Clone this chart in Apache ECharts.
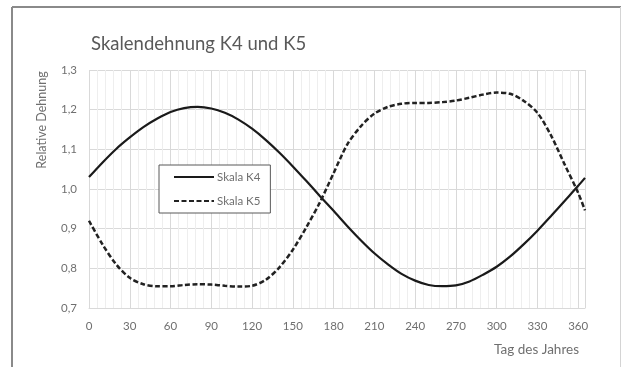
<!DOCTYPE html>
<html>
<head>
<meta charset="utf-8">
<script src="https://cdn.jsdelivr.net/npm/echarts@6/dist/echarts.min.js"></script>
<style>
  html, body { margin: 0; padding: 0; background: #fff; }
  #chart { width: 622px; height: 367px; }
</style>
</head>
<body>
<div id="chart"></div>
<script>
// Day of year and relative strain for scale K4
const daysK4 = [0, 10, 20, 30, 40, 50, 60, 70, 80, 90, 100, 110, 120, 130, 140, 150, 160, 170, 180, 190, 200, 210, 220, 230, 240, 250, 260, 270, 280, 290, 300, 310, 320, 330, 340, 350, 360, 365];
const strainK4 = [1.030, 1.067, 1.101, 1.130, 1.156, 1.177, 1.194, 1.204, 1.207, 1.203, 1.192, 1.175, 1.152, 1.124, 1.092, 1.057, 1.020, 0.982, 0.945, 0.907, 0.871, 0.838, 0.810, 0.786, 0.769, 0.758, 0.755, 0.757, 0.767, 0.784, 0.804, 0.830, 0.861, 0.895, 0.932, 0.970, 1.008, 1.028];

// Day of year and relative strain for scale K5
const daysK5 = [0, 10, 20, 30, 40, 50, 60, 70, 80, 90, 100, 110, 120, 130, 140, 150, 160, 170, 180, 190, 200, 210, 220, 230, 240, 250, 260, 270, 280, 290, 300, 310, 320, 330, 340, 350, 360, 365];
const strainK5 = [0.920, 0.860, 0.810, 0.776, 0.760, 0.755, 0.755, 0.758, 0.760, 0.759, 0.756, 0.754, 0.756, 0.771, 0.802, 0.847, 0.904, 0.967, 1.040, 1.112, 1.158, 1.190, 1.207, 1.215, 1.217, 1.217, 1.219, 1.223, 1.230, 1.238, 1.243, 1.240, 1.222, 1.192, 1.135, 1.062, 0.990, 0.946];

const seriesNames = ['Skala K4', 'Skala K5'];
const xTicks = [0, 30, 60, 90, 120, 150, 180, 210, 240, 270, 300, 330, 360];
const yTicks = [0.7, 0.8, 0.9, 1.0, 1.1, 1.2, 1.3];

const chart = echarts.init(document.getElementById('chart'), null, { renderer: 'canvas' });
const labelColor = '#6f6f6f';
const font = 'Lato, "Open Sans", sans-serif';

chart.setOption({
  backgroundColor: '#ffffff',
  animation: false,
  title: {
    text: 'Skalendehnung K4 und K5',
    left: 86,
    top: 30,
    textStyle: { fontFamily: font, fontSize: 18.5, fontWeight: 'normal', color: '#595959' }
  },
  legend: {
    orient: 'vertical',
    left: 159,
    top: 165,
    padding: [6, 10, 6, 14],
    itemWidth: 40,
    itemHeight: 14,
    itemGap: 12,
    backgroundColor: '#ffffff',
    borderColor: '#595959',
    borderWidth: 1,
    data: seriesNames,
    itemStyle: { color: 'transparent', borderWidth: 0 },
    textStyle: { fontFamily: font, fontSize: 11.5, color: labelColor, padding: [0, 0, 0, -2] }
  },
  grid: { left: 89, right: 37, top: 70, bottom: 59, containLabel: false },
  xAxis: {
    type: 'value',
    min: 0,
    max: 365,
    interval: 30,
    axisLine: { show: true, lineStyle: { color: '#d9d9d9', width: 1 } },
    axisTick: { show: false },
    axisLabel: {
      margin: 12,
      fontFamily: font,
      fontSize: 11.5,
      color: labelColor,
      showMaxLabel: false,
      formatter: v => (xTicks.includes(v) ? String(v) : '')
    },
    splitLine: { show: true, lineStyle: { color: '#d9d9d9', width: 1 } },
    minorTick: { show: false, splitNumber: 5 },
    minorSplitLine: { show: true, lineStyle: { color: '#eeeeee', width: 1 } }
  },
  yAxis: {
    type: 'value',
    min: yTicks[0],
    max: yTicks[yTicks.length - 1],
    interval: 0.1,
    axisLine: { show: false },
    axisTick: { show: false },
    axisLabel: {
      margin: 12,
      fontFamily: font,
      fontSize: 11.5,
      color: labelColor,
      formatter: v => v.toFixed(1).replace('.', ',')
    },
    splitLine: { show: true, lineStyle: { color: '#d9d9d9', width: 1 } }
  },
  graphic: [
    // outer frame of the chart area
    { type: 'line', shape: { x1: 12, y1: 7, x2: 621, y2: 7 }, style: { stroke: '#8a8a8a', lineWidth: 2 }, z: 10 },
    { type: 'line', shape: { x1: 12, y1: 7, x2: 12, y2: 367 }, style: { stroke: '#8a8a8a', lineWidth: 2 }, z: 10 },
    { type: 'line', shape: { x1: 620.5, y1: 7, x2: 620.5, y2: 367 }, style: { stroke: '#d4d4d4', lineWidth: 1 }, z: 10 },
    // axis titles
    {
      type: 'text',
      x: 42, y: 120,
      rotation: Math.PI / 2,
      style: { text: 'Relative Dehnung', fontFamily: font, fontSize: 12.5, fill: labelColor, align: 'center', verticalAlign: 'middle' }
    },
    {
      type: 'text',
      x: 579, y: 350,
      style: { text: 'Tag des Jahres', fontFamily: font, fontSize: 13.5, fill: labelColor, align: 'right', verticalAlign: 'middle' }
    }
  ],
  series: [
    {
      name: seriesNames[0],
      type: 'line',
      smooth: 0.3,
      symbol: 'none',
      lineStyle: { color: '#1a1a1a', width: 2.2, type: 'solid' },
      itemStyle: { color: '#1a1a1a' },
      data: daysK4.map((d, i) => [d, strainK4[i]])
    },
    {
      name: seriesNames[1],
      type: 'line',
      smooth: 0.3,
      symbol: 'none',
      lineStyle: { color: '#222222', width: 2.5, type: [5, 2.5] },
      itemStyle: { color: '#222222' },
      data: daysK5.map((d, i) => [d, strainK5[i]])
    }
  ]
});
</script>
</body>
</html>
